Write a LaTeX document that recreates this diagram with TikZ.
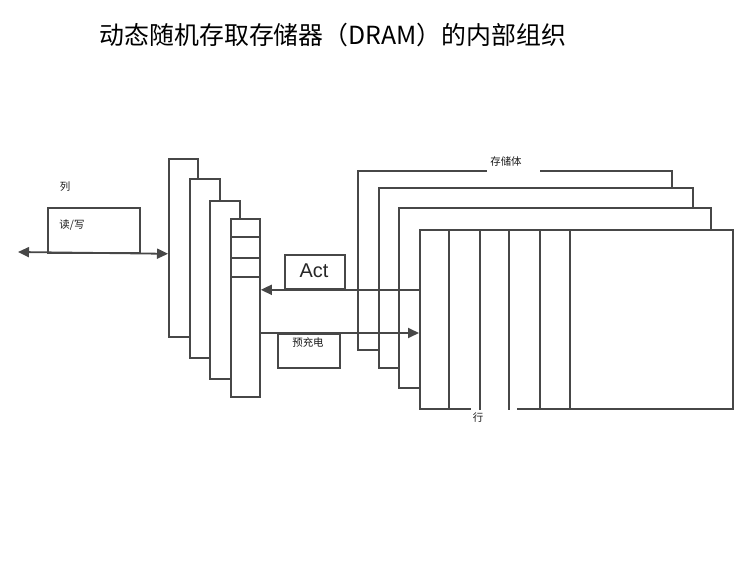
\documentclass[tikz,border=0pt]{standalone}
\usepackage{fontspec}
\newfontfamily\cjk{Noto Sans CJK SC}
\newfontfamily\arialf{Liberation Sans}
\usetikzlibrary{arrows.meta,calc}
\begin{document}
\begin{tikzpicture}[x=1bp,y=-1bp,
  ln/.style={draw=black!72, line width=1.8bp},
  box/.style={ln, fill=white, rectangle, inner sep=0pt, anchor=north west},
  lbl/.style={font=\cjk\fontsize{10.5}{12}\selectfont, inner sep=0pt, text=black!90},
  gapcut/.style={draw=white, line width=4.5bp},
  arr/.style={ln, -{Triangle[length=11bp,width=10bp]}},
  dbl/.style={ln, {Triangle[length=11bp,width=10bp]}-{Triangle[length=11bp,width=10bp]}}
]
\useasboundingbox (0,0) rectangle (755,566);

% title
\node[font=\cjk\fontsize{25}{30}\selectfont, inner sep=0pt] (title) at (333,35) {动态随机存取存储器（DRAM）的内部组织};

% column stack
\node[box, minimum width=29bp, minimum height=178bp] (c1) at (168,158) {};
\node[box, minimum width=30bp, minimum height=179bp] (c2) at (189,178) {};
\node[box, minimum width=30bp, minimum height=178bp] (c3) at (209,200) {};
\node[box, minimum width=29bp, minimum height=178bp] (c4) at (230,218) {};
\draw[ln] ($(c4.north west)+(0,19)$) -- ($(c4.north east)+(0,19)$);
\draw[ln] ($(c4.north west)+(0,40)$) -- ($(c4.north east)+(0,40)$);
\draw[ln] ($(c4.north west)+(0,59)$) -- ($(c4.north east)+(0,59)$);

% banks
\node[box, minimum width=314bp, minimum height=179bp] (b1) at (357,170) {};
\node[box, minimum width=314bp, minimum height=180bp] (b2) at (378,187) {};
\node[box, minimum width=312bp, minimum height=180bp] (b3) at (398,207) {};
\node[box, minimum width=313bp, minimum height=179bp] (b4) at (419,229) {};
\draw[gapcut] (487,170) -- (540,170);
\node[lbl] (bank) at (506,162) {存储体};
\draw[gapcut] (471,408) -- (517,408);
\foreach \dx in {30,61,90,121,151}
  \draw[ln] ($(b4.north west)+(\dx,0)$) -- ($(b4.south west)+(\dx,0)$);
\node[lbl] (row) at (478,418) {行};

% read/write
\node[box, minimum width=92bp, minimum height=45bp] (rw) at (47,207) {};
\node[lbl] (col) at (65,187) {列};
\node[lbl] (rwt) at (72,225) {读/写};
\coordinate (L) at (18,252);
\draw[dbl] (L) -- (c1.west |- rw.south);

% Act and precharge
\node[box, minimum width=60bp, minimum height=34bp] (act) at (284,254) {};
\node[font=\arialf\fontsize{20}{20}\selectfont, inner sep=0pt, text=black!85] (actt) at (314,271) {Act};
\node[box, minimum width=62bp, minimum height=34bp] (pre) at (277,333) {};
\node[lbl] (pret) at (308,343) {预充电};
\draw[arr] (b4.west |- act.south) -- (c4.east |- act.south);
\draw[arr] (c4.east |- pre.north) -- (b4.west |- pre.north);
\end{tikzpicture}
\end{document}
